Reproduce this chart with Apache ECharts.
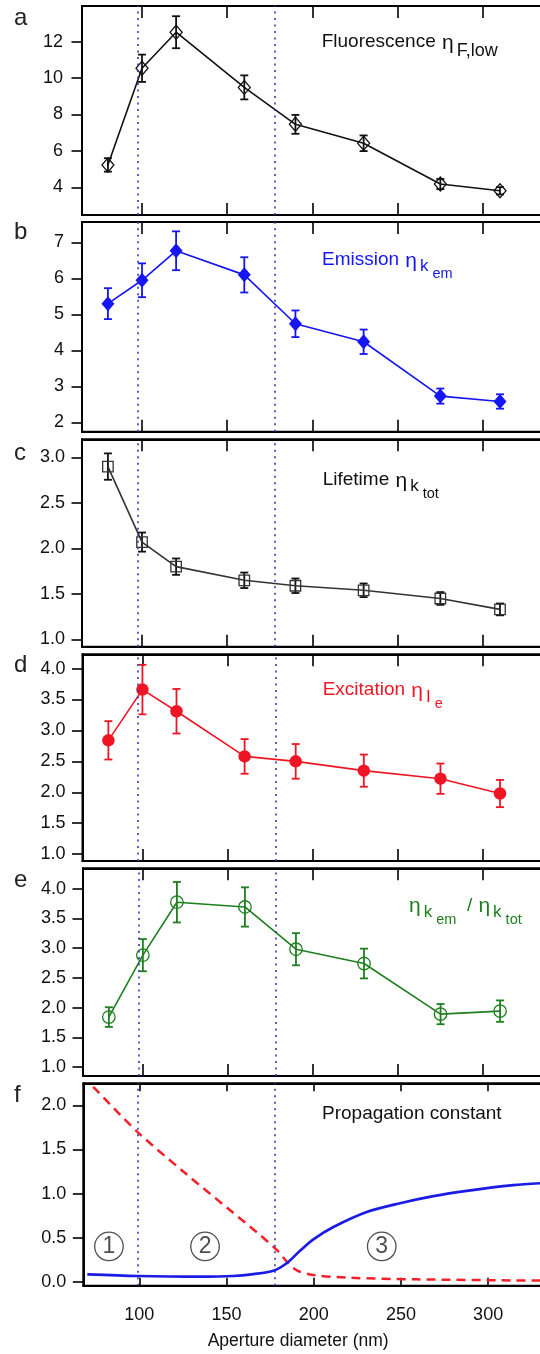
<!DOCTYPE html>
<html>
<head>
<meta charset="utf-8">
<script src="https://cdn.jsdelivr.net/npm/echarts@6/dist/echarts.min.js"></script>
<style>
html,body{margin:0;padding:0;background:#ffffff;}
#chart{width:540px;height:1354px;}
</style>
</head>
<body>
<div id="chart"></div>
<script>
// ---------- data ----------
const apertures = [80, 100, 120, 160, 190, 230, 275, 310];
const fluo      = [5.23, 10.54, 12.52, 9.49, 7.46, 6.42, 4.18, 3.81];
const fluoErr   = [0.37, 0.75, 0.88, 0.66, 0.52, 0.43, 0.28, 0.20];
const emis      = [5.30, 5.95, 6.77, 6.10, 4.74, 4.24, 2.73, 2.58];
const emisErr   = [0.43, 0.47, 0.54, 0.49, 0.37, 0.34, 0.21, 0.20];
const life      = [2.90, 2.07, 1.80, 1.65, 1.59, 1.54, 1.45, 1.33];
const lifeErr   = [0.145, 0.105, 0.09, 0.085, 0.08, 0.075, 0.07, 0.065];
const exc       = [2.84, 3.66, 3.31, 2.58, 2.50, 2.35, 2.22, 1.98];
const excErr    = [0.31, 0.40, 0.36, 0.28, 0.28, 0.26, 0.245, 0.22];
const ratio     = [1.84, 2.88, 3.77, 3.69, 2.98, 2.74, 1.89, 1.94];
const ratioErr  = [0.165, 0.27, 0.34, 0.33, 0.27, 0.25, 0.17, 0.18];

// panel f: propagation constant curves
const redX  = [73.6, 98.9, 125.2, 152.1, 169.2, 178.8, 184.5, 190.3, 199.8, 220.8, 259, 314.4, 333];
const redY  = [2.21, 1.70, 1.25, 0.81, 0.53, 0.36, 0.23, 0.13, 0.076, 0.045, 0.027, 0.015, 0.014];
const blueX = [70.2, 98.9, 134.8, 153.9, 165.4, 176.8, 184.5, 192.1, 199.8, 211.3, 230.4, 249.5, 268.6, 287.7, 314.4, 333];
const blueY = [0.084, 0.065, 0.057, 0.065, 0.087, 0.125, 0.21, 0.35, 0.48, 0.62, 0.79, 0.89, 0.97, 1.03, 1.095, 1.12];

// region markers
const regionX = [82.6, 137.7, 239];
const regionY = [0.40, 0.40, 0.40];
const regionLabels = ['1', '2', '3'];

// cut-off diameters (dotted lines)
const cutoffs  = [97.3, 178.0];
const cutoffsF = [98.9, 177.4];

// ticks
const xTicks  = [100, 150, 200, 250, 300];
const yTicksA = [4, 6, 8, 10, 12];
const yTicksB = [2, 3, 4, 5, 6, 7];
const yTicksC = [1.0, 1.5, 2.0, 2.5, 3.0];
const yTicksD = [1.0, 1.5, 2.0, 2.5, 3.0, 3.5, 4.0];
const yTicksE = [1.0, 1.5, 2.0, 2.5, 3.0, 3.5, 4.0];
const yTicksF = [0.0, 0.5, 1.0, 1.5, 2.0];

const xLabelText = 'Aperture diameter (nm)';
const panelLetters = ['a', 'b', 'c', 'd', 'e', 'f'];

// ---------- layout ----------
const FONT = 'Liberation Sans, Arial, sans-serif';
const panels = [
  {top: 6,      height: 209,   left: 82,   xMin: 64.8, xMax: 336.4, yMin: 2.48,  yMax: 13.96, ticks: yTicksA, dec: 0, tickLen: 12, labelMargin: 19},
  {top: 222,    height: 209.7, left: 82,   xMin: 64.8, xMax: 336.4, yMin: 1.74,  yMax: 7.57,  ticks: yTicksB, dec: 0, tickLen: 12, labelMargin: 18},
  {top: 439.3,  height: 207.4, left: 82,   xMin: 64.8, xMax: 336.4, yMin: 0.92,  yMax: 3.20,  ticks: yTicksC, dec: 1, tickLen: 12, labelMargin: 17},
  {top: 654.3,  height: 206.7, left: 82.5, xMin: 64.8, xMax: 336.4, yMin: 0.89,  yMax: 4.23,  ticks: yTicksD, dec: 1, tickLen: 12, labelMargin: 17},
  {top: 868.3,  height: 207.7, left: 83,   xMin: 64.8, xMax: 336.4, yMin: 0.85,  yMax: 4.34,  ticks: yTicksE, dec: 1, tickLen: 12, labelMargin: 17},
  {top: 1083.3, height: 202.4, left: 83.3, xMin: 67.9, xMax: 332.6, yMin: -0.045, yMax: 2.25, ticks: yTicksF, dec: 1, tickLen: 8,  labelMargin: 17}
];
const RIGHT_EDGE = 545;

const grids = [], xAxes = [], yAxes = [];
panels.forEach((p, i) => {
  grids.push({left: p.left, top: p.top, width: RIGHT_EDGE - p.left, height: p.height,
    show: true, borderColor: '#000', borderWidth: 2, backgroundColor: 'transparent',
    containLabel: false, outerBoundsMode: 'none'});
  const common = {type: 'value', gridIndex: i, min: p.xMin, max: p.xMax,
    splitLine: {show: false},
    axisLine: {show: true, onZero: false, lineStyle: {color: '#000', width: 2}},
    axisTick: {show: true, inside: true, length: p.tickLen, customValues: xTicks, lineStyle: {color: '#000', width: 1.6}}};
  xAxes.push(Object.assign({}, common, {position: 'bottom',
    name: i === 5 ? xLabelText : '', nameLocation: 'middle', nameGap: 46,
    nameTextStyle: {fontFamily: FONT, fontSize: 17.5, color: '#111', padding: [0, 32, 0, 0]},
    axisLabel: {show: i === 5, customValues: xTicks, margin: 20, fontFamily: FONT, fontSize: 18, color: '#111'}}));
  xAxes.push(Object.assign({}, common, {position: 'top', axisLabel: {show: false}}));
  yAxes.push({type: 'value', gridIndex: i, min: p.yMin, max: p.yMax, position: 'left',
    splitLine: {show: false},
    axisLine: {show: true, onZero: false, lineStyle: {color: '#000', width: 2}},
    axisTick: {show: true, inside: false, length: 10.5, customValues: p.ticks, lineStyle: {color: '#000', width: 1.6}},
    axisLabel: {show: true, customValues: p.ticks, margin: p.labelMargin, fontFamily: FONT, fontSize: 18, color: '#111',
      formatter: v => Number(v).toFixed(p.dec)}});
});

function cutoffMark(vals) {
  return {silent: true, symbol: ['none', 'none'], label: {show: false}, animation: false,
    lineStyle: {type: [2, 4.5], color: '#3535b5', width: 1.6},
    emphasis: {disabled: true},
    data: vals.map(v => ({xAxis: v}))};
}

function errSeries(gi, ys, es, color) {
  return {type: 'custom', xAxisIndex: gi * 2, yAxisIndex: gi, silent: true, z: 3,
    data: apertures.map((x, k) => [x, ys[k], es[k]]),
    renderItem(params, api) {
      const x = api.value(0), y = api.value(1), e = api.value(2);
      const hi = api.coord([x, y + e]), lo = api.coord([x, y - e]);
      const w = 4;
      const st = {stroke: color, lineWidth: 1.8};
      return {type: 'group', children: [
        {type: 'line', shape: {x1: hi[0], y1: hi[1], x2: lo[0], y2: lo[1]}, style: st},
        {type: 'line', shape: {x1: hi[0] - w, y1: hi[1], x2: hi[0] + w, y2: hi[1]}, style: st},
        {type: 'line', shape: {x1: lo[0] - w, y1: lo[1], x2: lo[0] + w, y2: lo[1]}, style: st}
      ]};
    }};
}

function mainSeries(gi, ys, color, symbol, size, hollow, cuts) {
  return {type: 'line', xAxisIndex: gi * 2, yAxisIndex: gi, z: 4, animation: false,
    data: apertures.map((x, k) => [x, ys[k]]),
    symbol: symbol, symbolSize: size, showSymbol: true,
    lineStyle: {color: color, width: 1.6},
    itemStyle: hollow ? {color: 'rgba(255,255,255,0)', borderColor: color, borderWidth: 1.3}
                      : {color: color, borderColor: color, borderWidth: 0},
    emphasis: {disabled: true},
    markLine: cutoffMark(cuts)};
}

const BLACK = '#111111', BLUE = '#1515f5', GREEN = '#1d7f1d', RED = '#f01525';

const series = [
  errSeries(0, fluo, fluoErr, BLACK),
  mainSeries(0, fluo, BLACK, 'diamond', [12, 14], true, cutoffs),
  errSeries(1, emis, emisErr, BLUE),
  mainSeries(1, emis, BLUE, 'diamond', [13, 15], false, cutoffs),
  errSeries(2, life, lifeErr, BLACK),
  mainSeries(2, life, '#333', 'rect', 10.5, true, cutoffs),
  errSeries(3, exc, excErr, RED),
  mainSeries(3, exc, RED, 'circle', 12.5, false, cutoffs),
  errSeries(4, ratio, ratioErr, GREEN),
  mainSeries(4, ratio, GREEN, 'circle', 12.5, true, cutoffs),
  {type: 'line', xAxisIndex: 10, yAxisIndex: 5, showSymbol: false, smooth: 0.3, animation: false,
    data: redX.map((x, k) => [x, redY[k]]), z: 4,
    lineStyle: {color: '#f5202a', width: 2.5, type: [9, 6]},
    emphasis: {disabled: true}, markLine: cutoffMark(cutoffsF)},
  {type: 'line', xAxisIndex: 10, yAxisIndex: 5, showSymbol: false, smooth: 0.3, animation: false,
    data: blueX.map((x, k) => [x, blueY[k]]), z: 5,
    lineStyle: {color: '#1b1be6', width: 2.7},
    emphasis: {disabled: true}},
  {type: 'scatter', xAxisIndex: 10, yAxisIndex: 5, symbol: 'circle', symbolSize: 28.5, z: 6,
    data: regionX.map((x, k) => [x, regionY[k]]),
    itemStyle: {color: 'rgba(255,255,255,0)', borderColor: '#222', borderWidth: 1.3},
    label: {show: true, position: 'inside', formatter: p => regionLabels[p.dataIndex],
      fontFamily: FONT, fontSize: 23, color: '#222'},
    emphasis: {disabled: true}}
];

// ---------- text ----------
function rich(color) {
  const base = {fontFamily: FONT, fontWeight: 'normal', color: color, verticalAlign: 'top'};
  return {
    n:   Object.assign({}, base, {fontSize: 19, lineHeight: 23}),
    eta: Object.assign({}, base, {fontSize: 21, lineHeight: 23, padding: [0, 3, 0, 1]}),
    s:   Object.assign({}, base, {fontSize: 18, lineHeight: 21, padding: [10, 0, 0, 0]}),
    k:   Object.assign({}, base, {fontSize: 17, lineHeight: 21, padding: [8, 0, 0, 0]}),
    ss:  Object.assign({}, base, {fontSize: 14.5, lineHeight: 17, padding: [16, 0, 0, 4]})
  };
}
const panelTitles = [
  {text: '{n|Fluorescence }{eta|η}{s|F,low}', left: 321.7, top: 32.3, color: '#111'},
  {text: '{n|Emission }{eta|η}{k|k}{ss|em}', left: 322, top: 250.3, color: BLUE},
  {text: '{n|Lifetime }{eta|η}{k|k}{ss|tot}', left: 322.7, top: 470.3, color: '#111'},
  {text: '{n|Excitation }{eta|η}{k|I}{ss|e}', left: 322.7, top: 680.5, color: RED},
  {text: '{eta|η}{k|k}{ss|em}{n|  / }{eta|η}{k|k}{ss|tot}', left: 408, top: 896, color: GREEN},
  {text: '{n|Propagation constant}', left: 322, top: 1104.5, color: '#111'}
];
const letterTops = [6.5, 220, 441.5, 653, 868, 1083];
const titles = panelTitles.map(t => ({text: t.text, left: t.left, top: t.top, padding: 0,
  textStyle: {fontWeight: 'normal', rich: rich(t.color)}}))
  .concat(panelLetters.map((l, i) => ({text: l, left: 14, top: letterTops[i], padding: 0,
    textStyle: {fontFamily: FONT, fontSize: 24, fontWeight: 'normal', color: '#222', lineHeight: 24}})));

const chart = echarts.init(document.getElementById('chart'), null, {renderer: 'canvas'});
chart.setOption({
  backgroundColor: '#ffffff',
  animation: false,
  title: titles,
  grid: grids,
  xAxis: xAxes,
  yAxis: yAxes,
  series: series
});
</script>
</body>
</html>
